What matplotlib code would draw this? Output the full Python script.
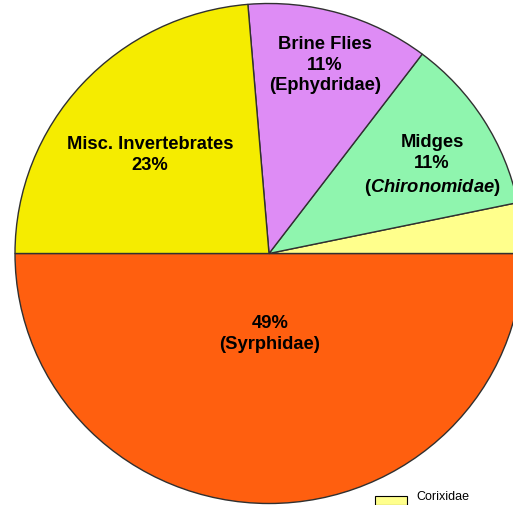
import matplotlib
matplotlib.use("Agg")
import matplotlib.pyplot as plt
from matplotlib.patches import Rectangle

plt.rcParams["mathtext.fontset"] = "custom"
plt.rcParams["mathtext.it"] = "Liberation Sans:italic:bold"
plt.rcParams["mathtext.rm"] = "Liberation Sans:bold"

# Data (order: counter-clockwise starting at 9 o'clock)
categories = ["Syrphidae", "Corixidae", "Midges", "Brine Flies", "Misc. Invertebrates"]
values = [49, 3.2, 11.2, 11.4, 23.2]
colors = ["#FF5F0F", "#FFFF8C", "#8FF5AE", "#DE8CF5", "#F5EC00"]

W, H = 513, 505
fig = plt.figure(figsize=(W / 100, H / 100), dpi=100)
ax = fig.add_axes([0, 0, 1, 1])

cx, cy = 269, 253.5   # pixel centre
rx, ry = 254, 250      # pixel radii

ax.pie(values, colors=colors, startangle=180, counterclock=True,
       radius=1.0, center=(0, 0), frame=True,
       wedgeprops=dict(edgecolor="#303030", linewidth=1.0))
ax.set_aspect("auto")
ax.set_xlim(-cx / rx, (W - cx) / rx)
ax.set_ylim(-(H - cy) / ry, cy / ry)
ax.set_axis_off()

font = dict(family=["Liberation Sans", "DejaVu Sans"], fontsize=13.2, weight="bold",
            color="black", ha="center", va="center", linespacing=1.3)


def px(x, y):
    return ((x - cx) / rx, (cy - y) / ry)


ax.text(*px(150, 155), "Misc. Invertebrates\n23%", **font)
ax.text(*px(325, 65), "Brine Flies\n11%\n(Ephydridae)", **font)
ax.text(*px(432, 153), "Midges\n11%", **font)
ax.text(*px(432, 187), r"($\mathit{Chironomidae}$)", **font)
ax.text(*px(270, 334), "49%\n(Syrphidae)", **font)

# legend entry for Corixidae
fig.patches.append(Rectangle((375 / W, 1 - 505 / H), 32 / W, 9 / H,
                             transform=fig.transFigure, facecolor="#FFFF8C",
                             edgecolor="black", linewidth=0.8))
fig.text(416 / W, 1 - 497 / H, "Corixidae", family=["Liberation Sans", "DejaVu Sans"],
         fontsize=9, va="center", ha="left")

fig.savefig("out.png", dpi=100, facecolor="white")
